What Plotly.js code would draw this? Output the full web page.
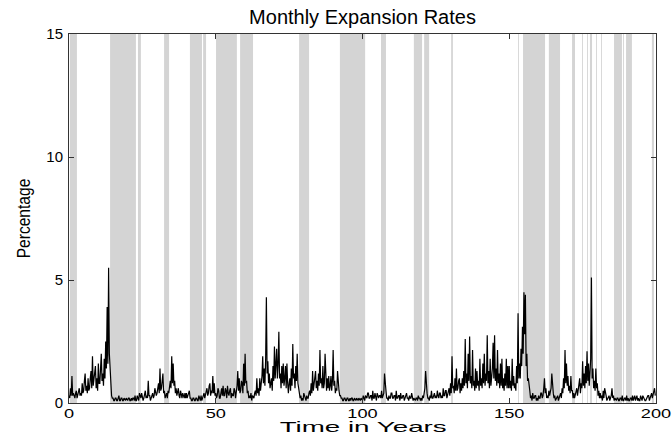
<!DOCTYPE html>
<html>
<head>
<meta charset="utf-8">
<script src="https://cdn.plot.ly/plotly-3.0.1.min.js"></script>
<style>html,body{margin:0;padding:0;background:#fff;}#chart{width:672px;height:436px;}</style>
</head>
<body>
<div id="chart"></div>
<script>
// Shaded periods (years)
var bandStart = [0.3, 14.0, 23.5, 32.4, 41.2, 45.7, 50.1, 58.3, 78.4, 92.3, 106.3, 117.5, 121.0, 130.2, 153.0, 154.7, 163.5, 171.4, 174.8, 176.5, 177.5, 179.6, 181.3, 185.7, 188.8, 189.8, 198.6];
var bandEnd   = [2.7, 22.8, 24.5, 34.1, 45.3, 46.7, 57.2, 62.7, 81.8, 100.9, 108.0, 120.3, 122.7, 130.8, 153.3, 162.2, 167.3, 172.4, 175.1, 176.8, 178.2, 179.9, 181.6, 188.4, 189.1, 191.8, 199.3];

// Expansion rates (percent), quarter-year samples; one row = 10 years
var rates0to50 = [
 0.3,0.2,0.6,0.3,1.1,0.3,0.4,0.2,0.2,0.4,0.5,0.2,0.3,0.5,0.6,0.3,0.4,0.3,0.8,0.4,0.5,0.9,1.2,0.5,0.7,0.4,1.0,0.5,0.6,1.0,1.3,0.6,1.9,0.7,0.9,1.2,1.5,0.6,1.0,0.5,
 1.6,0.8,0.8,1.4,2.0,0.9,1.2,0.7,1.8,1.0,2.5,1.4,3.9,1.6,5.5,2.0,1.2,0.5,0.3,0.2,0.2,0.1,0.1,0.2,0.2,0.1,0.1,0.2,0.3,0.1,0.1,0.2,0.2,0.1,0.1,0.2,0.1,0.1,0.2,0.1,
 0.1,0.2,0.2,0.1,0.1,0.2,0.1,0.2,0.2,0.1,0.3,0.1,0.1,0.3,0.2,0.1,0.4,0.2,0.2,0.4,0.3,0.1,0.2,0.4,0.5,0.2,0.3,0.2,0.9,0.3,0.3,0.1,0.2,0.3,0.4,0.2,0.3,0.6,0.5,0.3,
 0.4,0.7,0.8,0.4,1.4,0.5,0.6,0.9,1.2,0.4,0.5,0.2,0.3,0.4,0.2,0.5,0.4,0.7,0.9,0.6,1.9,0.8,1.6,0.7,0.9,0.4,0.6,0.3,0.4,0.6,0.3,0.2,0.5,0.3,0.2,0.4,0.3,0.2,0.4,0.2,
 0.4,0.2,0.3,0.5,0.5,0.2,0.2,0.1,0.1,0.2,0.2,0.1,0.1,0.2,0.2,0.1,0.1,0.3,0.2,0.1,0.3,0.1,0.2,0.3,0.4,0.2,0.3,0.5,0.6,0.3,0.4,0.7,0.8,0.3,0.5,0.4,1.1,0.4,0.8,0.3];
var rates50to100 = [
 0.4,0.2,0.3,0.6,0.5,0.2,0.2,0.4,0.6,0.3,0.7,0.3,0.3,0.6,0.5,0.2,0.7,0.4,0.3,0.5,0.6,0.2,0.4,0.3,0.3,0.6,0.5,0.2,0.4,0.7,1.3,0.5,1.0,0.4,0.5,0.9,0.8,0.4,1.6,0.7,
 2.0,0.8,0.9,0.4,0.5,0.2,0.3,0.2,0.4,0.1,0.3,0.2,0.2,0.4,0.5,0.3,1.0,0.4,0.6,0.3,1.0,0.5,0.7,1.1,1.9,0.8,1.4,0.7,1.8,4.3,1.2,1.7,0.8,1.2,0.6,0.8,1.0,0.5,1.5,0.9,
 2.3,1.0,1.4,2.2,1.0,1.6,2.9,1.0,1.2,0.6,1.5,0.8,1.6,0.7,1.0,1.5,0.6,1.6,0.8,0.4,0.8,1.0,0.5,1.4,0.7,2.4,1.0,1.2,0.6,1.5,0.9,2.0,0.8,0.6,0.3,0.2,0.3,0.1,0.2,0.1,
 0.4,0.2,0.2,0.1,0.3,0.2,0.2,0.4,0.5,0.3,0.8,0.4,1.3,0.5,0.7,1.0,1.3,0.6,0.9,0.5,1.2,0.7,2.15,0.8,1.0,0.6,1.5,0.6,0.8,2.0,0.9,0.5,1.0,0.6,1.1,0.5,0.7,1.1,0.5,0.9,
 2.15,0.7,0.9,0.4,0.6,0.5,1.3,0.5,0.5,0.3,0.3,0.2,0.2,0.1,0.1,0.2,0.2,0.1,0.1,0.2,0.2,0.1,0.1,0.2,0.1,0.2,0.2,0.1,0.1,0.2,0.1,0.1,0.2,0.1,0.1,0.2,0.1,0.1,0.2,0.1];
var rates100to150 = [
 0.1,0.3,0.2,0.1,0.3,0.2,0.2,0.4,0.4,0.2,0.2,0.3,0.3,0.1,0.5,0.2,0.2,0.4,0.3,0.1,0.4,0.2,0.2,0.3,0.3,0.2,0.5,0.2,0.3,0.4,1.2,0.6,0.5,0.2,0.2,0.1,0.3,0.2,0.2,0.4,
 0.4,0.2,0.2,0.3,0.3,0.1,0.5,0.2,0.2,0.3,0.3,0.1,0.4,0.2,0.2,0.3,0.3,0.1,0.2,0.4,0.4,0.2,0.2,0.1,0.3,0.2,0.2,0.4,0.3,0.1,0.2,0.1,0.1,0.2,0.2,0.1,0.3,0.2,0.2,0.1,
 0.2,0.1,0.3,0.2,0.4,0.6,1.3,0.5,0.4,0.2,0.2,0.1,0.3,0.2,0.5,0.2,0.2,0.3,0.4,0.2,0.3,0.2,0.5,0.3,0.2,0.4,0.4,0.2,0.3,0.2,0.6,0.3,0.3,0.5,0.5,0.2,0.3,0.4,0.6,0.3,
 0.8,0.4,1.9,0.6,0.7,0.4,1.0,0.5,1.4,0.5,0.6,0.9,1.0,0.4,0.8,0.5,1.0,0.6,1.3,0.7,2.6,0.8,1.2,0.6,2.0,0.9,2.7,0.8,1.1,0.6,2.15,0.7,0.9,0.5,1.4,0.6,1.3,0.7,0.9,0.5,
 1.8,0.7,1.0,0.6,1.6,0.8,2.0,0.7,1.2,0.9,2.75,0.8,1.3,0.6,1.8,0.7,1.0,1.4,2.45,1.0,2.75,0.9,1.4,0.7,2.15,0.8,1.2,0.6,1.6,0.7,1.8,0.6,1.0,0.5,1.2,0.7,1.8,0.6,1.5,0.6];
var rates150to200 = [
 1.5,0.6,0.9,0.5,1.8,0.7,1.1,0.6,0.8,0.5,1.5,0.8,3.65,1.0,1.6,1.0,2.2,1.5,3.1,2.0,4.5,2.8,4.4,1.5,2.0,0.9,1.0,0.5,0.5,0.2,0.3,0.1,0.4,0.2,0.2,0.3,0.3,0.1,0.2,0.1,
 0.3,0.2,0.2,0.4,0.4,0.2,0.3,0.6,1.0,0.4,0.6,0.2,0.3,0.2,0.5,0.3,0.4,0.6,1.2,0.4,0.4,0.2,0.3,0.1,0.2,0.3,0.3,0.1,0.2,0.3,0.4,0.2,0.6,0.4,1.0,0.6,2.15,0.8,1.6,0.7,
 1.1,0.5,0.7,0.4,1.1,0.5,0.5,0.2,0.4,0.2,0.3,0.5,0.6,0.3,0.5,0.8,1.0,0.4,0.8,0.6,1.7,0.7,1.2,0.6,1.5,0.8,2.1,0.9,1.6,0.7,1.2,1.8,5.1,1.0,1.4,0.6,0.9,0.5,1.4,0.6,
 0.8,0.3,0.5,0.2,0.4,0.2,0.3,0.1,0.5,0.2,0.6,0.3,0.3,0.1,0.2,0.3,0.3,0.1,0.2,0.3,0.6,0.2,0.3,0.1,0.2,0.1,0.1,0.2,0.2,0.1,0.1,0.2,0.2,0.1,0.3,0.1,0.1,0.2,0.2,0.1,
 0.3,0.1,0.2,0.1,0.1,0.2,0.2,0.1,0.3,0.1,0.2,0.3,0.1,0.2,0.3,0.1,0.2,0.1,0.1,0.3,0.2,0.1,0.3,0.2,0.2,0.1,0.1,0.2,0.2,0.3,0.3,0.1,0.2,0.3,0.4,0.2,0.3,0.5,0.6,0.3];

var rates = rates0to50.concat(rates50to100, rates100to150, rates150to200);
var step = 0.25;
var years = rates.map(function (_, i) { return i * step; });

var shapes = bandStart.map(function (s, i) {
  return {type: 'rect', xref: 'x', yref: 'paper', x0: s, x1: bandEnd[i], y0: 0, y1: 1,
          fillcolor: '#d4d4d4', line: {width: 0}, layer: 'below'};
});

var font = 'Liberation Sans, Arial, Helvetica, sans-serif';
var trace = {x: years, y: rates, type: 'scatter', mode: 'lines',
             line: {color: '#000000', width: 1.2}, hoverinfo: 'skip'};

var layout = {
  width: 672, height: 436,
  margin: {l: 69, r: 16, t: 34, b: 33, pad: 0},
  paper_bgcolor: '#ffffff', plot_bgcolor: '#ffffff',
  showlegend: false,
  title: {text: 'Monthly Expansion Rates', font: {family: font, size: 20, color: '#000'},
          xref: 'paper', x: 0.5, xanchor: 'center', yref: 'container', y: 0.962, yanchor: 'middle'},
  xaxis: {range: [0, 200], tickvals: [0, 50, 100, 150, 200], ticktext: ['0', '50', '100', '150', '200'],
          showgrid: false, zeroline: false, showline: true, linecolor: '#333', linewidth: 1,
          mirror: 'ticks', ticks: 'inside', ticklen: 5, tickcolor: '#333', ticklabelstandoff: -2,
          tickfont: {family: font, size: 13, color: '#000'}},
  yaxis: {range: [0, 15], tickvals: [0, 5, 10, 15], ticktext: ['0', '5', '10', '15'],
          showgrid: false, zeroline: false, showline: true, linecolor: '#333', linewidth: 1,
          mirror: 'ticks', ticks: 'inside', ticklen: 5, tickcolor: '#333', ticklabelstandoff: 2,
          tickfont: {family: font, size: 15, color: '#000'},
          title: {text: 'Percentage', font: {family: font, size: 19, color: '#000'}, standoff: 10}},
  annotations: [{text: 'Time in Years', xref: 'paper', yref: 'paper', x: 0.5, y: -0.064,
                 xanchor: 'center', yanchor: 'middle', showarrow: false,
                 font: {family: font, size: 15, color: '#000'}}],
  shapes: shapes
};

// the reference lettering is drawn with a distorted aspect: widen/narrow it along its own length
function widenText(selector, sx) {
  document.querySelectorAll(selector).forEach(function (el) {
    var bb = el.getBBox();
    var cx = bb.x + bb.width / 2;
    var t = el.getAttribute('transform') || '';
    el.setAttribute('transform', t + ' translate(' + cx + ',0) scale(' + sx + ',1) translate(' + (-cx) + ',0)');
  });
}

Plotly.newPlot('chart', [trace], layout, {staticPlot: true, displayModeBar: false}).then(function () {
  widenText('.xtick text', 1.4);
  widenText('.annotation-text', 1.85);
  widenText('.ytitle', 0.82);
});
</script>
</body>
</html>
